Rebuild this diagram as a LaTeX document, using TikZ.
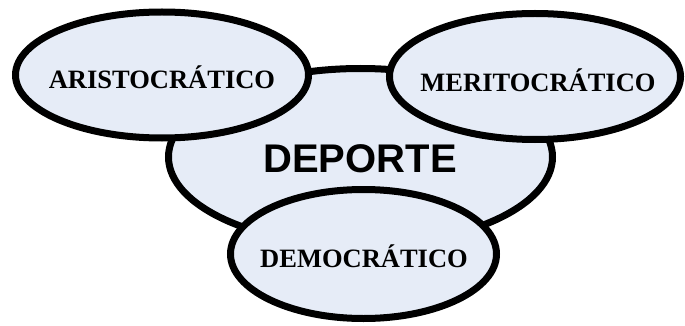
\documentclass[tikz,border=0pt]{standalone}
\usepackage{fontspec}
\setmainfont{Liberation Serif}
\setsansfont{Liberation Sans}
\usepackage{xcolor}
\definecolor{Col1}{RGB}{230,236,247}
\definecolor{Col2}{RGB}{0,0,0}
\usepackage{tikz}
\usetikzlibrary{shapes}
\tikzstyle{Blob}=[ellipse,draw=Col2,fill=Col1,line width=7pt,inner sep=0pt]
\tikzstyle{Kind}=[font=\fontsize{26.5}{30}\selectfont\bfseries,inner sep=0pt]
\tikzstyle{Root}=[font=\fontsize{40}{44}\selectfont\sffamily\bfseries,inner sep=0pt]
\begin{document}
\begin{tikzpicture}[x=1pt,y=-1pt]
        \useasboundingbox(0,0)rectangle(685,326);
        \node[Blob,minimum width=384pt,minimum height=177pt](deporte)at(360.5,157){};
        \node[Root](deporteT)at(360,159){DEPORTE};
        \node[Blob,minimum width=293pt,minimum height=126pt](aristo)at(162,75){};
        \node[Kind](aristoT)at(162,77){ARISTOCRÁTICO};
        \node[Blob,minimum width=291pt,minimum height=126pt](merito)at(535,76.5){};
        \node[Kind](meritoT)at(538,80){MERITOCRÁTICO};
        \node[Blob,minimum width=266pt,minimum height=129pt](demo)at(363.5,254){};
        \node[Kind](demoT)at(364,256){DEMOCRÁTICO};
    \end{tikzpicture}
\end{document}
